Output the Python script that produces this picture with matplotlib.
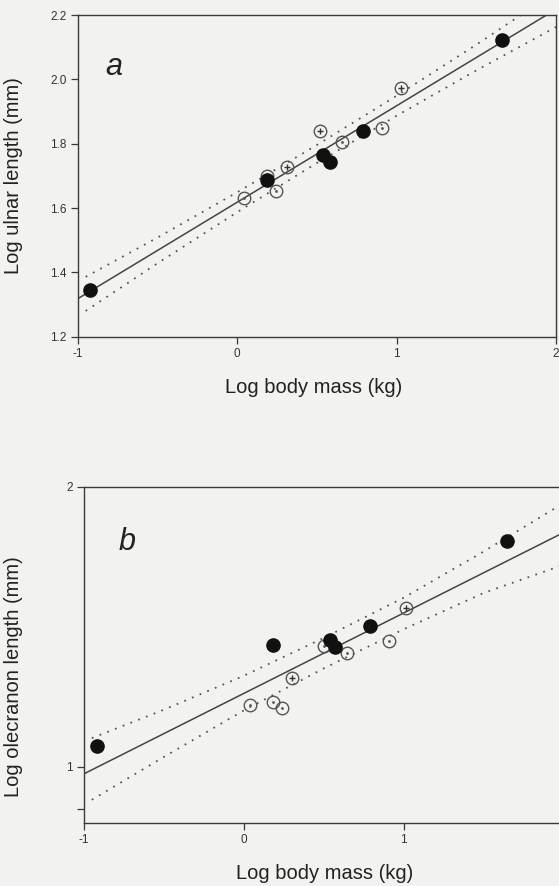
import matplotlib.pyplot as plt
from matplotlib.ticker import NullFormatter, FixedLocator

plt.rcParams['font.family'] = ['Liberation Sans', 'DejaVu Sans']

# panel a: ulnar length
a_fill_x = [-0.92, 0.19, 0.54, 0.58, 0.79, 1.66]
a_fill_y = [1.345, 1.688, 1.764, 1.744, 1.840, 2.124]
a_dot_x = [0.045, 0.185, 0.245, 0.66, 0.91]
a_dot_y = [1.632, 1.700, 1.652, 1.804, 1.850]
a_plus_x = [0.31, 0.52, 1.03]
a_plus_y = [1.727, 1.840, 1.972]
a_fit_x = [-1, 2]
a_fit_y = [1.318, 2.218]
a_band_x = [-0.95, -0.5, 0, 0.5, 1.0, 1.5, 2.0]
a_upper = [1.386, 1.508, 1.649, 1.796, 1.949, 2.108, 2.273]
a_lower = [1.280, 1.428, 1.587, 1.740, 1.887, 2.028, 2.163]
a_yticks = [1.2, 1.4, 1.6, 1.8, 2.0, 2.2]

# panel b: olecranon length
b_fill_x = [-0.92, 0.186, 0.538, 0.572, 0.788, 1.648]
b_fill_y = [1.051, 1.352, 1.369, 1.346, 1.417, 1.748]
b_dot_x = [0.041, 0.184, 0.242, 0.505, 0.645, 0.906]
b_dot_y = [1.164, 1.174, 1.157, 1.348, 1.324, 1.366]
b_plus_x = [0.304, 1.017]
b_plus_y = [1.245, 1.480]
b_fit_x = [-1, 2]
b_fit_y = [0.982, 1.785]
b_band_x = [-0.95, -0.5, 0, 0.5, 1.0, 1.5, 2.0]
b_upper = [1.073, 1.151, 1.252, 1.375, 1.519, 1.703, 1.920]
b_lower = [0.921, 1.024, 1.149, 1.275, 1.405, 1.537, 1.648]

xticks = [-1, 0, 1, 2]
bg = '#f2f2f0'
ink = '#3a3a3a'

fig = plt.figure(figsize=(5.59, 8.86), dpi=100, facecolor=bg)
ax1 = fig.add_axes([0.139, 0.6200, 0.8558, 0.3630])
ax2 = fig.add_axes([0.1499, 0.0708, 0.8581, 0.3799])


def draw(ax, fx, fy, dx, dy, px, py, lx, ly, bx, bu, bl):
    ax.set_facecolor(bg)
    ax.plot(bx, bu, color='#555555', lw=1.3, ls=(0, (1, 3.6)), zorder=2)
    ax.plot(bx, bl, color='#555555', lw=1.3, ls=(0, (1, 3.6)), zorder=2)
    ax.plot(lx, ly, color='#444444', lw=1.1, zorder=2)
    ax.plot(dx, dy, 'o', ms=9, mfc='none', mec='#555555', mew=1.0, zorder=3)
    ax.plot(dx, dy, '.', ms=2, color='#555555', zorder=3)
    ax.plot(px, py, 'o', ms=9, mfc='none', mec='#555555', mew=1.0, zorder=3)
    ax.plot(px, py, '+', ms=4, color='#333333', mew=1.0, zorder=3)
    ax.plot(fx, fy, 'o', ms=9.5, color='#111111', mec='#111111', zorder=4)
    for s in ax.spines.values():
        s.set_color(ink)
        s.set_linewidth(1.0)
    ax.set_xlim(-1, 2)
    ax.set_xticks(xticks)
    ax.tick_params(direction='out', length=5, width=0.9, color=ink,
                   labelsize=8.5, labelcolor='#333333', pad=3)
    ax.set_xlabel('Log body mass (kg)', fontsize=14.5, color='#222222')


draw(ax1, a_fill_x, a_fill_y, a_dot_x, a_dot_y, a_plus_x, a_plus_y,
     a_fit_x, a_fit_y, a_band_x, a_upper, a_lower)
ax1.set_xticklabels(['-1', '0', '1', '2'])
ax1.set_ylim(1.2, 2.2)
ax1.set_yticks(a_yticks)
ax1.set_yticklabels([f'{v:.1f}' for v in a_yticks])
ax1.set_ylabel('Log ulnar length (mm)', fontsize=14.5, color='#222222')
ax1.yaxis.set_label_coords(-0.114, 0.5)
ax1.xaxis.set_label_coords(0.494, -0.129)
ax1.text(0.076, 0.837, 'a', transform=ax1.transAxes, fontsize=22,
         style='italic', ha='center', va='center', color='#222222')

draw(ax2, b_fill_x, b_fill_y, b_dot_x, b_dot_y, b_plus_x, b_plus_y,
     b_fit_x, b_fit_y, b_band_x, b_upper, b_lower)
# the "2" label of panel b lies past the right edge of the page
ax2.set_xticklabels(['-1', '0', '1', ''])
ax2.set_yscale('log')
ax2.set_ylim(0.869, 2.0)
ax2.yaxis.set_major_locator(FixedLocator([1, 2]))
ax2.set_yticklabels(['1', '2'])
ax2.yaxis.set_minor_locator(FixedLocator([0.9]))
ax2.yaxis.set_minor_formatter(NullFormatter())
ax2.tick_params(axis='y', which='minor', direction='out', length=5,
                width=0.9, color=ink)
ax2.set_ylabel('Log olecranon length (mm)', fontsize=14.5, color='#222222')
ax2.yaxis.set_label_coords(-0.127, 0.435)
ax2.xaxis.set_label_coords(0.503, -0.122)
ax2.text(0.090, 0.836, 'b', transform=ax2.transAxes, fontsize=22,
         style='italic', ha='center', va='center', color='#222222')

fig.savefig('out.png', dpi=100, facecolor=bg)
